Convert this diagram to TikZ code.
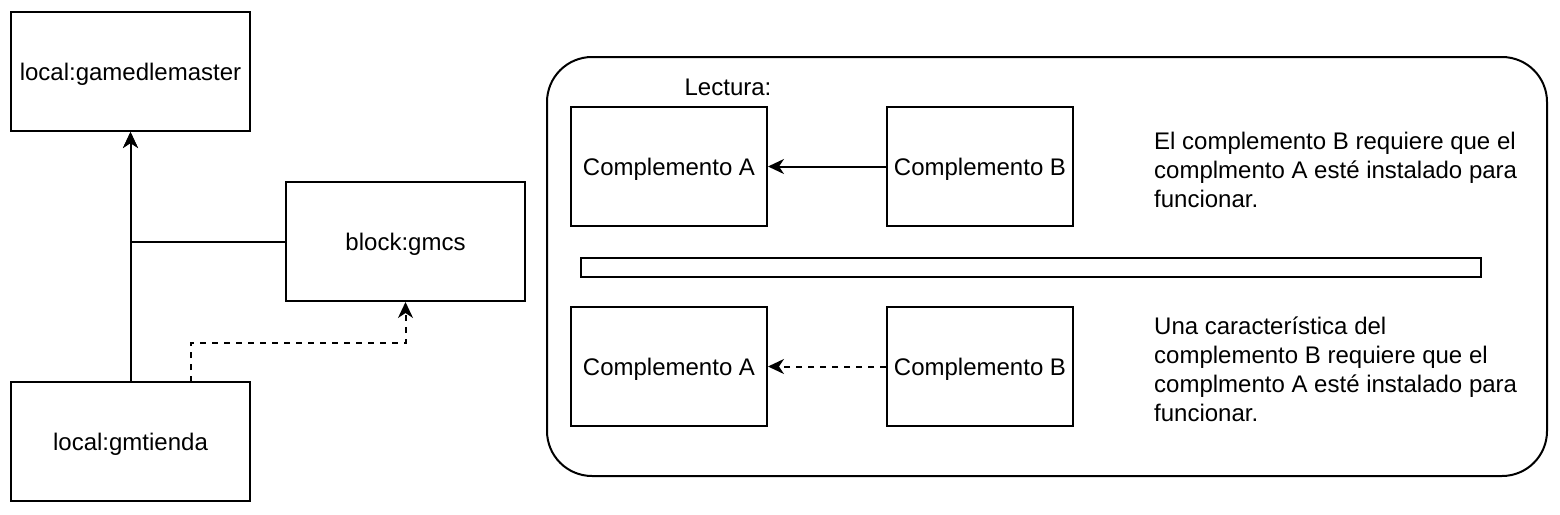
\documentclass[tikz,border=0pt]{standalone}
\usepackage{fontspec}
\setmainfont{Liberation Sans}
\usetikzlibrary{arrows.meta,positioning,calc}

\begin{document}
\begin{tikzpicture}[
    x=1pt, y=-1pt,
    every node/.style={font=\fontsize{24}{29}\selectfont},
    pkg/.style={rectangle, draw, line width=2pt, minimum width=239pt, minimum height=119pt, inner sep=0pt, text height=17pt, text depth=0pt},
    comp/.style={rectangle, draw, line width=2pt, minimum height=119pt, inner sep=0pt, text height=17pt, text depth=0pt},
    panel/.style={rectangle, draw, line width=2pt, rounded corners=45pt, minimum width=1000pt, minimum height=419pt},
    note/.style={anchor=west, align=left, inner sep=0pt},
    dep/.style={-{Stealth[length=16pt,width=15pt,inset=5pt]}, line width=2pt},
    optdep/.style={dep, dash pattern=on 6pt off 6pt}
]
    \useasboundingbox (0,0) rectangle (1560,514);

    % Packages
    \node[pkg] (master) at (130.5,71.5) {local:gamedlemaster};
    \node[pkg] (tienda) at (130.5,441.5) {local:gmtienda};
    \node[pkg] (gmcs) at (405.5,241.5) {block:gmcs};

    \draw[dep] (tienda.north) -- (master.south);
    \draw[dep] (gmcs.west) -| (master.south);
    \coordinate (tout) at (191,382);
    \draw[optdep] (tout) |- ($(gmcs.south)+(0,41)$) -- (gmcs.south);

    % Legend
    \node[panel] (legend) at (1047,266.5) {};
    \node (lect) at (728,87) {Lectura:};

    \node[comp, minimum width=196pt] (a1) at (669,166.5) {Complemento A};
    \node[comp, minimum width=186pt] (b1) at (980,166.5) {Complemento B};
    \draw[dep] (b1.west) -- (a1.east);
    \node[note] (n1) at (1154,170) {El complemento B requiere que el\\complmento A esté instalado para\\funcionar.};

    \node[rectangle, draw, line width=2pt, minimum width=900pt, minimum height=19pt, inner sep=0pt] (sep) at (1031,267.5) {};

    \node[comp, minimum width=196pt] (a2) at (669,366.5) {Complemento A};
    \node[comp, minimum width=186pt] (b2) at (980,366.5) {Complemento B};
    \draw[optdep] (b2.west) -- (a2.east);
    \node[note] (n2) at (1154,369.5) {Una característica del\\complemento B requiere que el\\complmento A esté instalado para\\funcionar.};
\end{tikzpicture}
\end{document}
